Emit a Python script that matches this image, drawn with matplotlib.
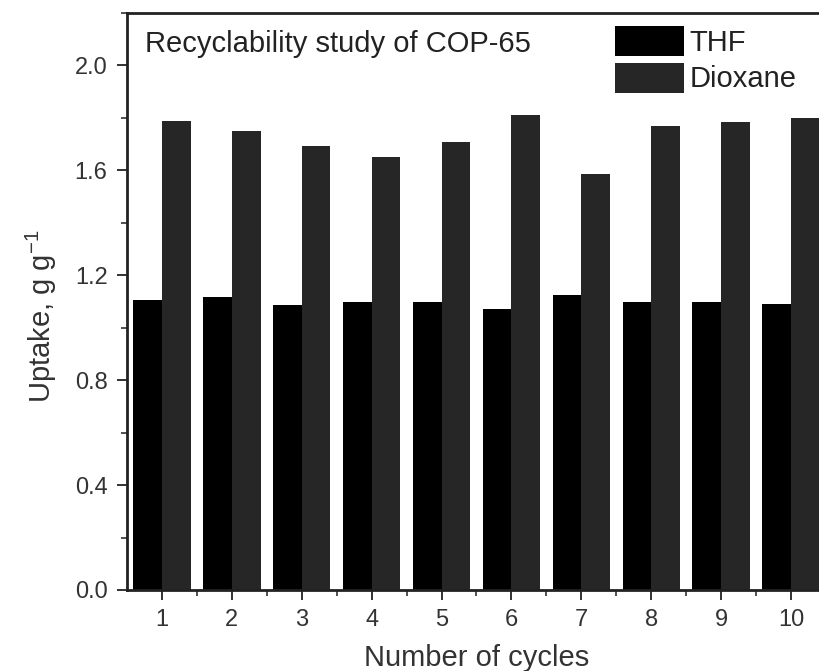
import matplotlib
matplotlib.use("Agg")
import matplotlib.pyplot as plt
import numpy as np
from matplotlib.ticker import FixedLocator, MultipleLocator
from matplotlib.patches import Patch

cycles = [1, 2, 3, 4, 5, 6, 7, 8, 9, 10]
thf = [1.105, 1.117, 1.088, 1.098, 1.098, 1.073, 1.124, 1.098, 1.098, 1.090]
dioxane = [1.790, 1.749, 1.691, 1.651, 1.710, 1.810, 1.587, 1.770, 1.784, 1.800]
series_names = ["THF", "Dioxane"]
title_text = "Recyclability study of COP-65"

plt.rcParams['font.family'] = ['Liberation Sans', 'DejaVu Sans']

fig = plt.figure(figsize=(8.2, 6.71), dpi=100)
ax = fig.add_axes([127/820, 1 - 590/671, 699/820, (590 - 13)/671])

x = np.array(cycles, dtype=float)
w = 0.41
c_thf = '#000000'
c_dio = '#262626'
ax.bar(x - w/2, thf, width=w, color=c_thf, linewidth=0)
ax.bar(x + w/2, dioxane, width=w, color=c_dio, linewidth=0)

ax.set_xlim(0.5, 10.5)
ax.set_ylim(0, 2.2)
ax.set_xticks(cycles)
ax.xaxis.set_minor_locator(FixedLocator(np.arange(1.5, 10.5, 1.0)))
ax.set_yticks([0.0, 0.4, 0.8, 1.2, 1.6, 2.0])
ax.yaxis.set_minor_locator(MultipleLocator(0.2))
ax.set_yticklabels(["0.0", "0.4", "0.8", "1.2", "1.6", "2.0"])

tc = '#333333'
ax.tick_params(axis='both', which='major', direction='out', length=7, width=1.3,
               colors='#222222', labelcolor=tc, labelsize=17, pad=7)
ax.tick_params(axis='both', which='minor', direction='out', length=4, width=1.1,
               colors='#222222')

for s in ['left', 'bottom', 'top']:
    ax.spines[s].set_linewidth(2.0)
    ax.spines[s].set_color('#222222')
ax.spines['right'].set_visible(False)

ax.set_xlabel("Number of cycles", fontsize=21, color=tc, labelpad=9)
ax.set_ylabel(r"Uptake, g g$^{\mathregular{-1}}$", fontsize=21, color=tc, labelpad=11)
ax.yaxis.label.set_y(0.475)

fig.text(145/820, 1 - 52/671, title_text, fontsize=21, color='#222222',
         ha='left', va='baseline')

handles = [Patch(facecolor=c_thf, edgecolor='none'), Patch(facecolor=c_dio, edgecolor='none')]
leg = fig.legend(handles, series_names, loc='upper left',
                 bbox_to_anchor=(615/820, 1 - 26/671), bbox_transform=fig.transFigure,
                 frameon=False, fontsize=21, handlelength=2.35, handleheight=1.2,
                 labelspacing=0.2, handletextpad=0.2, borderpad=0, borderaxespad=0)
for t in leg.get_texts():
    t.set_color('#222222')

fig.savefig("out.png", dpi=100)
